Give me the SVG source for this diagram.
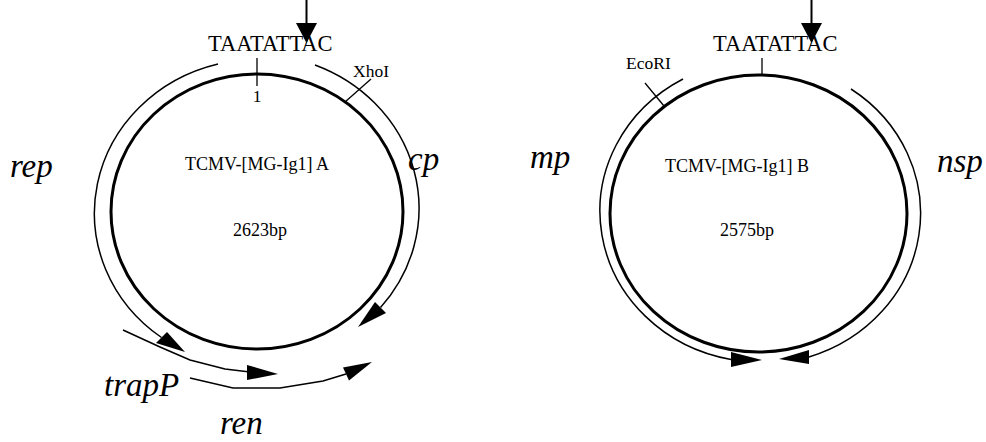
<svg xmlns="http://www.w3.org/2000/svg" width="986" height="442" viewBox="0 0 986 442">
<style>
.t{font-family:"Liberation Serif","Times New Roman",serif;fill:#000}
.s{font-size:17.5px}
.m{font-size:18px}
.big{font-size:22.5px}
.lab{font-size:33px;font-style:italic}
.thick{fill:none;stroke:#000;stroke-width:3}
.thin{fill:none;stroke:#000;stroke-width:1.5}
.tick{fill:none;stroke:#000;stroke-width:1.3}
.head{fill:#000;stroke:none}
</style>
<rect width="986" height="442" fill="#fff"/>
<g id="plasmidA">
<ellipse class="thick" cx="257" cy="211.5" rx="146" ry="137.5"/>
<text class="t m" x="257" y="170" text-anchor="middle">TCMV-[MG-Ig1] A</text>
<text class="t m" x="260" y="236" text-anchor="middle">2623bp</text>
</g>
<g id="plasmidB">
<ellipse class="thick" cx="758.5" cy="213.5" rx="148.5" ry="138.5"/>
<text class="t m" x="737" y="172" text-anchor="middle">TCMV-[MG-Ig1] B</text>
<text class="t m" x="747" y="236" text-anchor="middle">2575bp</text>
</g>
<g id="siteA">
<text class="t big" x="208" y="51">TAATATTAC</text>
<line class="tick" x1="257" y1="58" x2="257" y2="86"/>
<text class="t s" x="257" y="102" text-anchor="middle">1</text>
<line x1="306.5" y1="0" x2="306.5" y2="24" stroke="#000" stroke-width="2"/>
<polygon class="head" points="296,23 317,23 306.5,43"/>
</g>
<g id="siteB">
<text class="t big" x="713" y="51">TAATATTAC</text>
<line class="tick" x1="762" y1="58" x2="762" y2="74"/>
<line x1="811.5" y1="0" x2="811.5" y2="24" stroke="#000" stroke-width="2"/>
<polygon class="head" points="801,23 822,23 811.5,43"/>
</g>
<g id="xhoI">
<line class="tick" x1="345" y1="102" x2="371" y2="79"/>
<text class="t s" x="353" y="77">XhoI</text>
</g>
<g id="ecoRI">
<line class="tick" x1="645" y1="83" x2="664" y2="106"/>
<text class="t s" x="626" y="69">EcoRI</text>
</g>
<g id="labels">
<text class="t lab" x="10" y="177">rep</text>
<text class="t lab" x="408" y="170">cp</text>
<text class="t lab" x="104" y="396">trapP</text>
<text class="t lab" x="220" y="434">ren</text>
<text class="t lab" x="530" y="168">mp</text>
<text class="t lab" x="937" y="172">nsp</text>
</g>
<g id="connectors">
<path class="thin" d="M218,64 A164,154 0 0 0 161.5,337.5"/>
<polygon class="head" points="156,343 167,332 185,352"/>
<path class="thin" d="M315,65 A164,154 0 0 1 380.5,307.5"/>
<polygon class="head" points="375,302 386,313 358,327"/>
<polyline class="thin" points="123,330 160,347 190,360 225,369 250,372"/>
<polygon class="head" points="247,365 247,380 278,374"/>
<polyline class="thin" points="190,378 233,388 280,388 323,381 346,374"/>
<polygon class="head" points="343,367.6 349,380.4 372,362"/>
<path class="thin" d="M683,79 A161,151 0 0 0 731,359.5"/>
<polygon class="head" points="731,352 731,367 762,360"/>
<path class="thin" d="M851,89 A161,151 0 0 1 809,357"/>
<polygon class="head" points="809,350 809,364 779,359"/>
</g>
</svg>
